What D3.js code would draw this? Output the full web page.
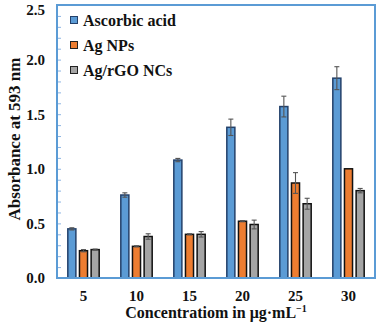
<!DOCTYPE html>
<html><head><meta charset="utf-8">
<script src="https://cdn.jsdelivr.net/npm/d3@7"></script>
<style>body{margin:0;background:#fff}svg{display:block}
svg text{font-family:"Liberation Serif","Times New Roman",serif;font-weight:bold;fill:#111}</style>
</head><body>
<svg id="c" width="378" height="327"></svg>
<script>
const categories = ["5","10","15","20","25","30"];
const seriesNames = ["Ascorbic acid","Ag NPs","Ag/rGO NCs"];
const ascorbic = [0.45,0.76,1.08,1.38,1.57,1.83];
const ascorbicErr = [0.01,0.02,0.015,0.075,0.095,0.105];
const agNPs = [0.25,0.29,0.40,0.52,0.87,1.00];
const agNPsErr = [0.01,0.005,0.005,0.005,0.095,0.0];
const agRGO = [0.26,0.38,0.40,0.49,0.68,0.80];
const agRGOErr = [0.005,0.025,0.025,0.04,0.05,0.02];
const yTicks = [0,0.5,1.0,1.5,2.0,2.5];
const fills = ["#5B9BD5","#ED7D31","#A5A5A5"];
const strokes = ["#23406A","#111","#111"];

const svg = d3.select("#c");
const L=57,R=375,T=5,B=278;
const x = d3.scaleBand().domain(categories).range([L,R]).paddingInner(0.38).paddingOuter(0.19);
const xs = d3.scaleBand().domain(seriesNames).range([0,x.bandwidth()]).paddingInner(0.18);
const y = d3.scaleLinear().domain([0,2.5]).range([B,T]);

const data = [ascorbic,agNPs,agRGO];
const errs = [ascorbicErr,agNPsErr,agRGOErr];

// minor ticks
const minor = d3.range(0,26).map(i=>i/10);
svg.append("g").attr("transform",`translate(${L},0)`)
  .call(d3.axisRight(y).tickValues(minor).tickSize(4).tickFormat(""))
  .call(g=>g.select(".domain").remove())
  .call(g=>g.selectAll("line").attr("stroke","#8DB4E2").attr("stroke-width",1));

// bars
seriesNames.forEach((s,si)=>{
  const g = svg.append("g");
  g.selectAll("rect").data(categories).join("rect")
    .attr("x",c=>x(c)+xs(s)+0.75)
    .attr("y",(c,i)=>y(data[si][i]))
    .attr("width",xs.bandwidth()-1.5)
    .attr("height",(c,i)=>B-y(data[si][i]))
    .attr("fill",fills[si]).attr("stroke",strokes[si]).attr("stroke-width",1.5);
  const eg = svg.append("g").attr("stroke","#555").attr("stroke-width",1.1);
  categories.forEach((c,i)=>{
    const e = errs[si][i]; if(e<=0) return;
    const cx = x(c)+xs(s)+xs.bandwidth()/2;
    const v = data[si][i];
    eg.append("line").attr("x1",cx).attr("x2",cx).attr("y1",y(v+e)).attr("y2",y(v-e));
    eg.append("line").attr("x1",cx-2.5).attr("x2",cx+2.5).attr("y1",y(v+e)).attr("y2",y(v+e));
    eg.append("line").attr("x1",cx-2.5).attr("x2",cx+2.5).attr("y1",y(v-e)).attr("y2",y(v-e));
  });
});

// frame
svg.append("rect").attr("x",L).attr("y",T).attr("width",R-L).attr("height",B-T)
  .attr("fill","none").attr("stroke","#5B9BD5").attr("stroke-width",2);

// y axis labels
const ya = svg.append("g").attr("transform",`translate(${L},0)`)
  .call(d3.axisLeft(y).tickValues(yTicks).tickSize(0).tickPadding(12).tickFormat(d3.format(".1f")));
ya.select(".domain").remove();
ya.selectAll("text").attr("font-size",15).attr("fill","#111").attr("font-family",null);
ya.selectAll(".tick").filter(d=>d===2.5).select("text").attr("dy","0.62em");

// x axis labels
const xa = svg.append("g").attr("transform",`translate(0,${B})`)
  .call(d3.axisBottom(x).tickSize(0).tickPadding(12));
xa.select(".domain").remove();
xa.selectAll("text").attr("font-size",15).attr("fill","#111").attr("font-family",null);

// titles
svg.append("text").attr("x",216).attr("y",318).attr("text-anchor","middle")
  .attr("font-size",16)
  .html('Concentratiom in μg·mL<tspan dy="-6" font-size="10">−1</tspan>');
svg.append("text").attr("transform","translate(20,139) rotate(-90)").attr("text-anchor","middle")
  .attr("font-size",17)
  .text("Absorbance at 593 nm");

// legend
seriesNames.forEach((s,i)=>{
  const yy = 20 + i*25;
  svg.append("rect").attr("x",70.5).attr("y",yy-3.5).attr("width",7).attr("height",7)
    .attr("fill",fills[i]).attr("stroke",i===0?"#23406A":"#222").attr("stroke-width",1);
  svg.append("text").attr("x",83).attr("y",yy+5.5)
    .attr("font-size",16).text(s);
});
</script>
</body></html>
